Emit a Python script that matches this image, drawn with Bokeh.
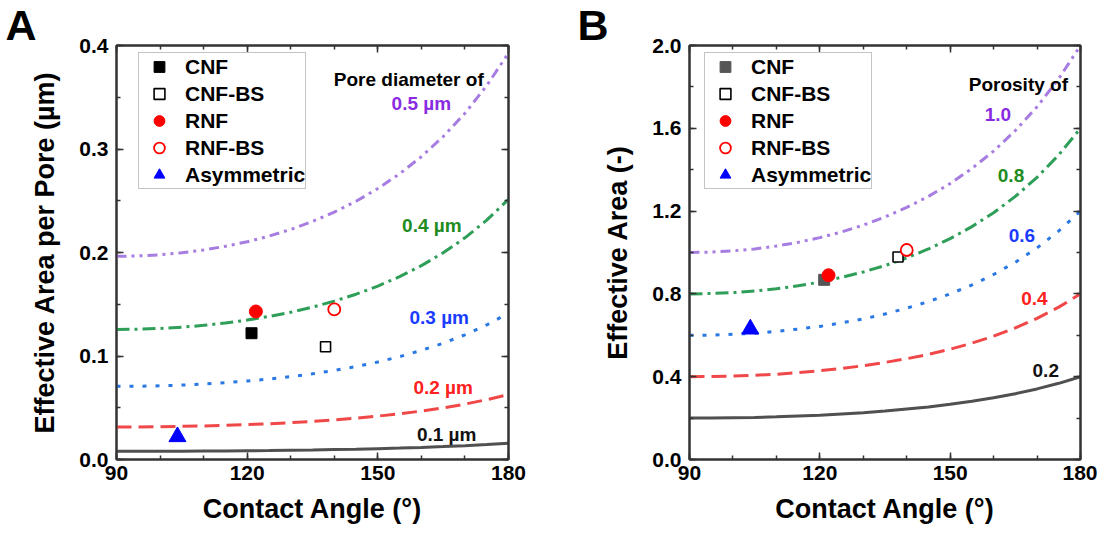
from bokeh.plotting import figure
from bokeh.models import (LinearAxis, SingleIntervalTicker, Legend, LegendItem,
                          Range1d, CustomJSTickFormatter)
from bokeh.layouts import row
from bokeh.embed import file_html
from bokeh.resources import INLINE
from bokeh.core.properties import value

# ---------------- data ----------------
theta = [90, 95, 100, 105, 110, 115, 120, 125, 130, 135, 140, 145, 150, 155, 160, 165, 170, 175, 180]

# Panel A: effective area per pore (um^2) for several pore diameters
a_d01 = [0.0079, 0.0079, 0.0079, 0.0080, 0.0081, 0.0082, 0.0084, 0.0086, 0.0089, 0.0092,
         0.0096, 0.0100, 0.0105, 0.0110, 0.0117, 0.0125, 0.0134, 0.0144, 0.0157]
a_d02 = [0.0314, 0.0315, 0.0317, 0.0320, 0.0324, 0.0330, 0.0337, 0.0345, 0.0356, 0.0368,
         0.0383, 0.0399, 0.0419, 0.0442, 0.0468, 0.0499, 0.0535, 0.0578, 0.0628]
a_d03 = [0.0707, 0.0708, 0.0712, 0.0719, 0.0729, 0.0742, 0.0758, 0.0777, 0.0801, 0.0828,
         0.0861, 0.0898, 0.0942, 0.0994, 0.1054, 0.1123, 0.1205, 0.1300, 0.1414]
a_d04 = [0.1257, 0.1259, 0.1266, 0.1278, 0.1296, 0.1319, 0.1347, 0.1382, 0.1423, 0.1472,
         0.1530, 0.1597, 0.1676, 0.1767, 0.1873, 0.1997, 0.2142, 0.2312, 0.2513]
a_d05 = [0.1963, 0.1967, 0.1978, 0.1997, 0.2024, 0.2060, 0.2104, 0.2158, 0.2223, 0.2300,
         0.2390, 0.2495, 0.2618, 0.2760, 0.2926, 0.3120, 0.3345, 0.3612, 0.3927]

# Panel B: effective area (-) for several porosities
b_p02 = [0.200, 0.200, 0.202, 0.203, 0.206, 0.210, 0.214, 0.220, 0.226, 0.234,
         0.244, 0.254, 0.267, 0.281, 0.298, 0.318, 0.341, 0.368, 0.400]
b_p04 = [0.400, 0.401, 0.403, 0.407, 0.412, 0.420, 0.429, 0.440, 0.453, 0.469,
         0.487, 0.508, 0.533, 0.562, 0.596, 0.636, 0.682, 0.736, 0.800]
b_p06 = [0.600, 0.601, 0.605, 0.610, 0.619, 0.630, 0.643, 0.660, 0.679, 0.703,
         0.731, 0.763, 0.800, 0.843, 0.894, 0.953, 1.022, 1.104, 1.200]
b_p08 = [0.800, 0.802, 0.806, 0.814, 0.825, 0.839, 0.857, 0.880, 0.906, 0.937,
         0.974, 1.017, 1.067, 1.125, 1.192, 1.271, 1.363, 1.472, 1.600]
b_p10 = [1.000, 1.002, 1.008, 1.017, 1.031, 1.049, 1.072, 1.099, 1.132, 1.172,
         1.218, 1.271, 1.333, 1.406, 1.490, 1.589, 1.704, 1.840, 2.000]

# measured membranes
samples = ["CNF", "CNF-BS", "RNF", "RNF-BS", "Asymmetric"]
sample_angle = [121, 138, 122, 140, 104]
a_sample_area = [0.122, 0.109, 0.143, 0.145, 0.022]
b_sample_area = [0.868, 0.978, 0.890, 1.012, 0.630]

a_curve_labels = ["0.1 \u00b5m", "0.2 \u00b5m", "0.3 \u00b5m", "0.4 \u00b5m", "0.5 \u00b5m"]
b_curve_labels = ["0.2", "0.4", "0.6", "0.8", "1.0"]

# ---------------- styles / geometry ----------------
FONT = "Liberation Sans"
line_colors = ["#505050", "#f04848", "#2a78e4", "#2e9e58", "#a77de2"]
text_colors = ["#111111", "#ff2020", "#1a3cff", "#1e8c1e", "#8a2be2"]
dashes = ["solid", "15 7", "4 9", "13 5 3 5", "10 5 3 5 3 5"]
HEIGHT = 532
BORDER_TOP = 45
BORDER_BOTTOM = 73
FRAME_H = HEIGHT - BORDER_TOP - BORDER_BOTTOM


def make_panel(curves, curve_labels, label_pos, header, header_pos, y_end, y_step,
               sample_y, ylabel, letter, letter_px, cnf_color, width,
               border_left, border_right, legend_x):
    p = figure(width=width, height=HEIGHT,
               min_border_left=border_left, min_border_right=border_right,
               min_border_top=BORDER_TOP, min_border_bottom=BORDER_BOTTOM,
               x_range=Range1d(90, 180), y_range=Range1d(0, y_end),
               output_backend="svg", toolbar_location=None, tools="")
    p.grid.visible = False
    p.outline_line_color = "#333333"
    p.outline_line_width = 2
    p.background_fill_color = "white"
    p.border_fill_color = "white"

    # panel letter as the figure title, pulled left over the axis area
    p.title.text = letter
    p.title.align = "left"
    p.title.offset = letter_px - border_left
    p.title.standoff = -6
    p.title.text_font = FONT
    p.title.text_font_style = "bold"
    p.title.text_font_size = "43px"
    p.title.text_color = "black"

    xt = SingleIntervalTicker(interval=30, num_minor_ticks=3)
    yt = SingleIntervalTicker(interval=y_step, num_minor_ticks=2)
    p.xaxis.ticker = xt
    p.yaxis.ticker = yt
    for ax in (p.xaxis[0], p.yaxis[0]):
        ax.axis_line_width = 2
        ax.axis_line_color = "#333333"
        ax.major_tick_in = 7
        ax.major_tick_out = 0
        ax.minor_tick_in = 4
        ax.minor_tick_out = 0
        ax.major_tick_line_width = 1.5
        ax.minor_tick_line_width = 1.5
        ax.major_tick_line_color = "#333333"
        ax.minor_tick_line_color = "#333333"
        ax.major_label_text_font = FONT
        ax.major_label_text_font_style = "bold"
        ax.major_label_text_font_size = "21px"
        ax.major_label_text_color = "black"
        ax.axis_label_text_font = FONT
        ax.axis_label_text_font_style = "bold"
        ax.axis_label_text_font_size = "27px"
        ax.axis_label_text_color = "black"
    p.xaxis.major_label_standoff = 6
    p.xaxis.axis_label_standoff = 11
    p.yaxis.major_label_standoff = 8
    p.yaxis.axis_label_standoff = 16
    p.xaxis.axis_label = "Contact Angle (\u00b0)"
    p.yaxis.axis_label = ylabel
    p.yaxis.formatter = CustomJSTickFormatter(code="return tick.toFixed(1);")

    for loc, tk in (("above", xt), ("right", yt)):
        ax = LinearAxis(ticker=tk, formatter=CustomJSTickFormatter(code="return '';"),
                        major_label_standoff=0, axis_line_width=2, axis_line_color="#333333",
                        major_tick_in=7, major_tick_out=0, minor_tick_in=4, minor_tick_out=0,
                        major_tick_line_width=1.5, minor_tick_line_width=1.5,
                        major_tick_line_color="#333333", minor_tick_line_color="#333333")
        p.add_layout(ax, loc)

    for ys, col, dsh in zip(curves, line_colors, dashes):
        p.line(theta, ys, line_color=col, line_width=3, line_dash=dsh)

    for txt, (tx, ty), col in zip(curve_labels, label_pos, text_colors):
        p.text(x=[tx], y=[ty], text=[txt], text_color=col, text_font=value(FONT),
               text_font_style="bold", text_font_size="19px",
               text_align="center", text_baseline="middle")
    p.text(x=[header_pos[0]], y=[header_pos[1]], text=[header], text_color="black",
           text_font=value(FONT), text_font_style="bold", text_font_size="19px",
           text_align="center", text_baseline="middle")

    r1 = p.scatter([sample_angle[0]], [sample_y[0]], marker="square", size=11,
                   fill_color=cnf_color, line_color=cnf_color)
    r2 = p.scatter([sample_angle[1]], [sample_y[1]], marker="square", size=10,
                   fill_color="white", line_color="black", line_width=1.6)
    r3 = p.scatter([sample_angle[2]], [sample_y[2]], marker="circle", size=13,
                   fill_color="red", line_color="red")
    r4 = p.scatter([sample_angle[3]], [sample_y[3]], marker="circle", size=12,
                   fill_color="white", line_color="red", line_width=1.8)
    r5 = p.scatter([sample_angle[4]], [sample_y[4]], marker="triangle", size=17,
                   fill_color="blue", line_color="blue")

    items = [LegendItem(label=s, renderers=[r]) for s, r in zip(samples, [r1, r2, r3, r4, r5])]
    leg_h = 5 * 27
    leg = Legend(items=items, location=(legend_x, FRAME_H - 9 - leg_h),
                 label_text_font=FONT, label_text_font_style="bold",
                 label_text_font_size="21px", label_text_color="black",
                 glyph_width=40, glyph_height=27, label_height=27, label_standoff=6,
                 spacing=0, padding=0, margin=0,
                 border_line_color="#8a8a8a", border_line_width=1.2,
                 background_fill_color="white", background_fill_alpha=1)
    p.add_layout(leg)
    return p


pA = make_panel([a_d01, a_d02, a_d03, a_d04, a_d05], a_curve_labels,
                [(165.8, 0.0244), (165.0, 0.0695), (164.1, 0.137), (162.4, 0.226), (160.0, 0.344)],
                "Pore diameter of", (157.1, 0.367), 0.4, 0.1, a_sample_area,
                "Effective Area per Pore (\u00b5m)", "A", 5, "black", 569, 116, 61, 22)
pB = make_panel([b_p02, b_p04, b_p06, b_p08, b_p10], b_curve_labels,
                [(172.0, 0.432), (169.4, 0.78), (166.5, 1.08), (164.0, 1.373), (161.0, 1.669)],
                "Porosity of", (165.7, 1.81), 2.0, 0.4, b_sample_area,
                "Effective Area (-)", "B", 8, "#555555", 528, 120, 17, 15)

layout = row(pA, pB)
open("out.html", "w").write(file_html(layout, INLINE))
